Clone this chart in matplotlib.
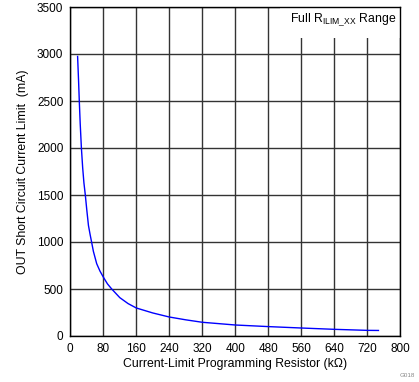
import numpy as np
import matplotlib
matplotlib.use("Agg")
import matplotlib.pyplot as plt

plt.rcParams['font.family'] = ['Liberation Sans', 'DejaVu Sans']

# values
resistor_kohm = [17.7, 20, 21.8, 24, 26.9, 30, 33, 36.4, 40, 44, 48, 51.6,
                 56, 64, 72, 80, 90, 100.4, 120, 140, 160, 200, 240, 280,
                 320, 400, 480, 560, 640, 720, 747]
current_ma = [2974, 2720, 2500, 2260, 2000, 1790, 1630, 1500, 1340, 1176, 1080, 1000,
              900, 769, 690, 627, 555, 500, 408, 345, 298, 245, 202, 172,
              146, 117, 100, 85, 71, 60, 59]

x_ticks = list(range(0, 801, 80))
y_ticks = list(range(0, 3501, 500))

fig = plt.figure(figsize=(4.19, 3.82), dpi=100)
ax = fig.add_axes([70.3 / 419, 46 / 382, 330 / 419, 329 / 382])

ax.plot(resistor_kohm, current_ma, color='#0000ff', lw=1.0, zorder=2)

ax.set_xlim(0, 800)
ax.set_ylim(0, 3500)
ax.set_xticks(x_ticks)
ax.set_yticks(y_ticks)
ax.set_axisbelow(True)
ax.grid(True, color='#333333', lw=1.0)
ax.tick_params(length=0, pad=5, labelsize=8.5, colors='black')
for s in ax.spines.values():
    s.set_color('black')
    s.set_linewidth(1.0)

ax.set_xlabel('Current-Limit Programming Resistor (k\u03a9)', fontsize=8.8, labelpad=2)
ax.set_ylabel('OUT Short Circuit Current Limit  (mA)', fontsize=8.8, labelpad=6)

ax.text(662, 3362, r'Full R$_{\mathregular{ILIM\_XX}}$ Range', ha='center', va='center',
        fontsize=8.8, zorder=2.4,
        bbox=dict(facecolor='white', edgecolor='none', pad=7))

fig.text(0.99, 0.01, 'G018', fontsize=4.5, color='#888888', ha='right', va='bottom')

fig.savefig('out.png', dpi=100)
